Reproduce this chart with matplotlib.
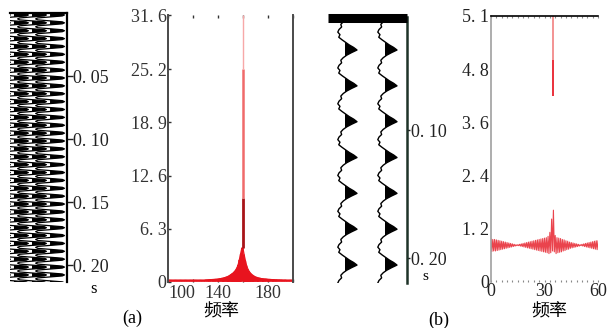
import numpy as np
import matplotlib
matplotlib.use("Agg")
import matplotlib.pyplot as plt

plt.rcParams['font.family'] = ['Liberation Serif', 'Noto Sans CJK SC']
plt.rcParams['font.size'] = 13

# ---- data ----
# panel (a) wiggle: one cycle of the 160 Hz trace (8 samples per cycle)
cycle_a = [0.0, 0.85, 1.0, 0.85, 0.0, -0.85, -1.0, -0.85]
n_cycles_a = 35
dt_a = 0.00625 / 8
traces_a = [0, 1, 2, 3]
time_ticks_a = [0.05, 0.10, 0.15, 0.20]
time_labels_a = ['0. 05', '0. 10', '0. 15', '0. 20']

# panel (a) spectrum
freq_a = list(range(100, 201))
amp_a = [0.22] * 30 + [
    0.24, 0.25, 0.26, 0.27, 0.28, 0.29, 0.3, 0.31, 0.32, 0.33,          # 130-139
    0.35, 0.38, 0.4, 0.43, 0.46, 0.5, 0.55, 0.6, 0.66, 0.75,            # 140-149
    0.85, 0.95, 1.05, 1.2, 1.4, 1.65, 2.0, 2.6, 3.3, 4.0,               # 150-159
    4.0, 3.2, 2.5, 1.9, 1.5, 1.25, 1.05, 0.9, 0.78, 0.68,               # 160-169
    0.6, 0.55, 0.5, 0.46, 0.43, 0.4, 0.38, 0.36, 0.35, 0.34,            # 170-179
    0.32, 0.31, 0.3, 0.29, 0.28, 0.27, 0.26, 0.26, 0.25, 0.25,          # 180-189
    0.24, 0.24, 0.23, 0.23, 0.23, 0.22, 0.22, 0.22, 0.22, 0.22, 0.22]   # 190-200
amp_floor_a = 0.08
spike_a_freq = 160
spike_a_lo = [4.0, 10.0, 25.2]
spike_a_hi = [10.0, 25.2, 31.6]
spike_a_col = ['#a81418', '#f06a6a', '#f7a8a8']
yticks_a = [0, 6.3, 12.6, 18.9, 25.2, 31.6]
ylabels_a = ['0', '6. 3', '12. 6', '18. 9', '25. 2', '31. 6']
xticks_a = [100, 140, 180]

# panel (b) wiggle: one cycle of the 35 Hz trace (2 ms samples)
cycle_b = [1.0, 0.55, 0.15, -0.15, -0.35, -0.28, -0.5, -0.6, -0.42, -0.52, -0.25, 0.05, 0.35, 0.72]
n_cycles_b = 8
dt_b = 0.002
t0_b = 0.0095
traces_b = [1, 2]
time_ticks_b = [0.10, 0.20]
time_labels_b = ['0. 10', '0. 20']

# panel (b) spectrum: upper / lower edge of the hatched band, 1 Hz bins
freq_b = list(range(0, 61))
hi_b = [0.97, 0.96, 0.96, 0.95, 0.94, 0.93, 0.92, 0.91, 0.90, 0.89,
        0.88, 0.87, 0.86, 0.85, 0.84, 0.84, 0.85, 0.86, 0.87, 0.88,
        0.89, 0.90, 0.91, 0.92, 0.93, 0.94, 0.95, 0.96, 0.97, 0.98,
        0.99, 1.00, 1.03, 1.12, 1.42, 1.62, 1.05, 1.00, 0.99, 0.98,
        0.96, 0.95, 0.93, 0.92, 0.90, 0.89, 0.88, 0.87, 0.86, 0.85,
        0.84, 0.85, 0.86, 0.87, 0.88, 0.89, 0.90, 0.91, 0.92, 0.93, 0.93]
lo_b = [0.69, 0.70, 0.70, 0.71, 0.72, 0.73, 0.74, 0.75, 0.76, 0.77,
        0.78, 0.79, 0.80, 0.81, 0.82, 0.82, 0.81, 0.80, 0.79, 0.78,
        0.77, 0.76, 0.75, 0.74, 0.73, 0.72, 0.71, 0.70, 0.69, 0.68,
        0.67, 0.66, 0.64, 0.66, 0.70, 0.68, 0.64, 0.66, 0.67, 0.68,
        0.70, 0.71, 0.73, 0.74, 0.76, 0.77, 0.78, 0.79, 0.80, 0.81,
        0.82, 0.81, 0.80, 0.79, 0.78, 0.77, 0.76, 0.75, 0.74, 0.73, 0.73]
spike_b_freq = 35
spike_b_lo = [4.2, 5.0]
spike_b_hi = [5.0, 6.0]
spike_b_col = ['#e8202c', '#f28a8a']
yticks_b = [0, 1.2, 2.4, 3.6, 4.8, 6.0]
ylabels_b = ['0', '1. 2', '2. 4', '3. 6', '4. 8', '5. 1']
xticks_b = [0, 30, 60]

# ---- layout (pixel boxes in a 614x328 canvas) ----
W, H = 614, 328
def box(x0, y0, x1, y1):
    return [x0 / W, 1 - y1 / H, (x1 - x0) / W, (y1 - y0) / H]

fig = plt.figure(figsize=(6.14, 3.28), dpi=100)

# (a) wiggle section
ax1 = fig.add_axes(box(10, 13, 67, 282))
wave_a = np.tile(cycle_a, n_cycles_a)
t_a = np.arange(len(wave_a)) * dt_a
for b in traces_a:
    x = b + 0.8 * wave_a
    ax1.fill_betweenx(t_a, b, x, where=wave_a > 0, interpolate=True, color='k', lw=0)
    ax1.plot(x, t_a, color='k', lw=0.9)
ax1.set_xlim(0.78, 3.94)
ax1.set_ylim(0.2134, 0.0)
for s in ['left', 'bottom']:
    ax1.spines[s].set_visible(False)
ax1.spines['top'].set_linewidth(1.6)
ax1.spines['right'].set_linewidth(1.6)
ax1.set_xticks([])
ax1.yaxis.tick_right()
ax1.set_yticks(time_ticks_a)
ax1.set_yticklabels(time_labels_a)
ax1.tick_params(axis='y', length=4, width=1, pad=0.5, colors='#222222')
fig.text(93 / W, 1 - 289 / H, 's', ha='center', va='center', fontsize=12)

# (a) spectrum
ax2 = fig.add_axes(box(168, 15, 293, 282))
zx = np.ravel(np.column_stack([freq_a, np.array(freq_a) + 0.5]))
zy = np.ravel(np.column_stack([amp_a, [amp_floor_a] * len(amp_a)]))
ax2.plot(zx, zy, color='#e8141e', lw=0.9)
ax2.plot(freq_a, amp_a, color='#e8141e', lw=0.8)
ax2.vlines([spike_a_freq] * 3, spike_a_lo, spike_a_hi, colors=spike_a_col, lw=[2.0, 1.8, 1.0])
ax2.set_xlim(100, 200)
ax2.set_ylim(0, 31.6)
ax2.set_yticks(yticks_a)
ax2.set_yticklabels(ylabels_a)
ax2.set_xticks(xticks_a)
ax2.set_xticks(range(100, 201, 20), minor=True)
for s in ['top', 'bottom']:
    ax2.spines[s].set_visible(False)
for s in ['left', 'right']:
    ax2.spines[s].set_color('#4a4a4a')
    ax2.spines[s].set_linewidth(1.4)
ax2.tick_params(which='both', direction='in', top=True, length=2, width=1, colors='#333333', pad=2)
ax2.tick_params(axis='y', length=2, pad=1)
lbl = ax2.get_xticklabels()
lbl[0].set_ha('left')
fig.text(221 / W, 1 - 311 / H, '频率', ha='center', va='center', fontsize=13,
         family=['Noto Sans CJK SC'])
fig.text(132 / W, 1 - 318 / H, '(a)', ha='center', va='center', fontsize=13)

# (b) wiggle section
ax3 = fig.add_axes(box(328, 17.5, 407, 283))
wave_b = np.tile(cycle_b, n_cycles_b)
t_b = t0_b + np.arange(len(wave_b)) * dt_b
for b in traces_b:
    x = b + 0.3 * wave_b
    ax3.fill_betweenx(t_b, b, x, where=wave_b > 0, interpolate=True, color='k', lw=0)
    ax3.plot(x, t_b, color='k', lw=1.0)
ax3.set_xlim(0.575, 2.55)
ax3.set_ylim(0.2195, 0.0121)
for s in ['left', 'bottom']:
    ax3.spines[s].set_visible(False)
ax3.spines['top'].set_linewidth(6.5)
ax3.spines['top'].set_capstyle('butt')
ax3.spines['right'].set_linewidth(1.8)
ax3.spines['right'].set_color('#1e3328')
ax3.set_xticks([])
ax3.yaxis.tick_right()
ax3.set_yticks(time_ticks_b)
ax3.set_yticklabels(time_labels_b)
ax3.tick_params(axis='y', length=2, width=1, pad=1, colors='#222222')
fig.text(425 / W, 1 - 277 / H, 's', ha='center', va='center', fontsize=11)
fig.text(439 / W, 1 - 320 / H, '(b)', ha='center', va='center', fontsize=13)

# (b) spectrum
ax4 = fig.add_axes(box(491, 16, 598, 282))
zx = np.ravel(np.column_stack([freq_b, np.array(freq_b) + 0.5]))
zy = np.ravel(np.column_stack([hi_b, lo_b]))
ax4.plot(zx, zy, color='#e8303a', lw=0.8, alpha=0.9)
ax4.vlines([spike_b_freq] * 2, spike_b_lo, spike_b_hi, colors=spike_b_col, lw=1.3)
ax4.set_xlim(0, 60)
ax4.set_ylim(0, 6.0)
ax4.set_yticks(yticks_b)
ax4.set_yticklabels(ylabels_b)
ax4.set_xticks(xticks_b)
ax4.set_xticks(range(0, 61, 3), minor=True)
for s in ['right', 'bottom']:
    ax4.spines[s].set_visible(False)
ax4.spines['left'].set_color('#a0a0a0')
ax4.spines['left'].set_linewidth(1.2)
ax4.spines['top'].set_linewidth(1.2)
ax4.tick_params(which='both', direction='in', top=True, length=1.5, width=0.8, colors='#888888', pad=1)
ax4.tick_params(which='major', labelcolor='#222222')
ax4.tick_params(axis='y', length=0, pad=1.5)
fig.text(549 / W, 1 - 311 / H, '频率', ha='center', va='center', fontsize=13,
         family=['Noto Sans CJK SC'])

fig.savefig('out.png', dpi=100)
